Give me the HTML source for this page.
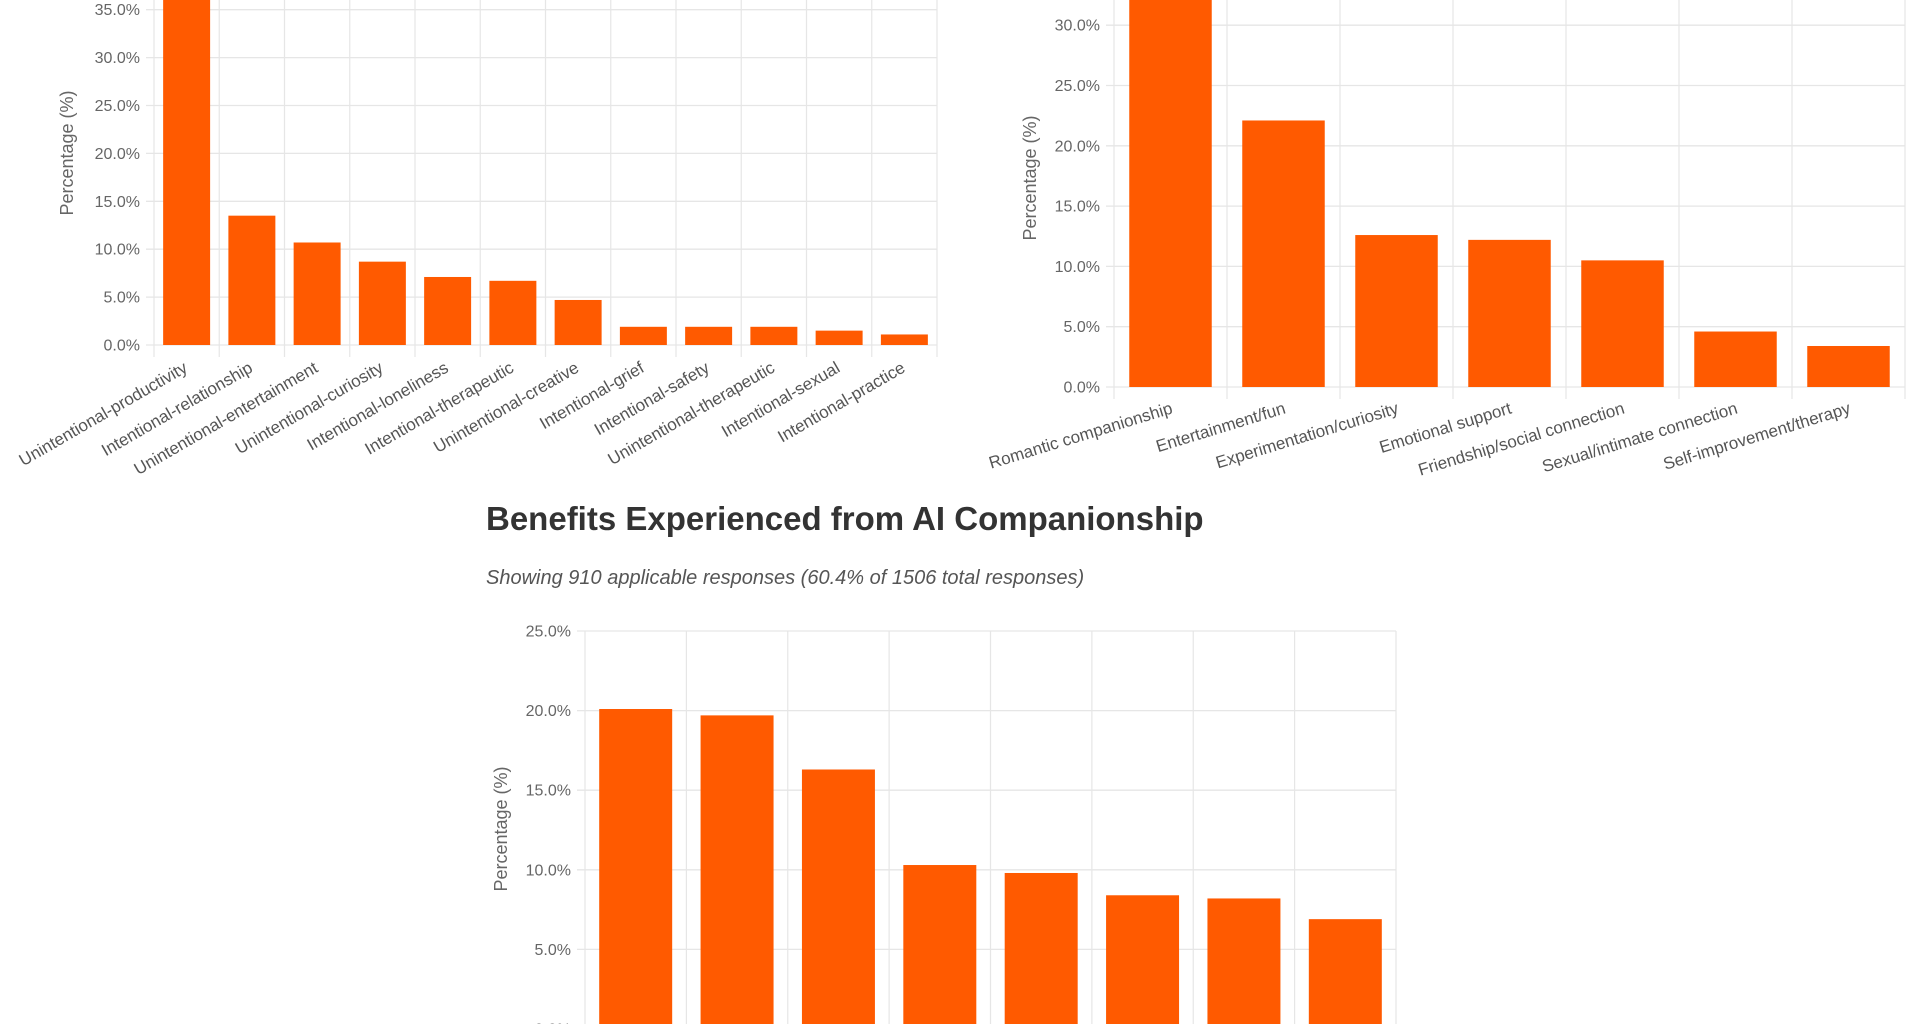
<!DOCTYPE html>
<html><head><meta charset="utf-8"><style>
html,body{margin:0;padding:0;background:#fff;width:1920px;height:1024px;overflow:hidden}
svg{display:block;font-family:"Liberation Sans",Arial,sans-serif}
</style></head><body>
<svg id="root" width="1920" height="1024" viewBox="0 0 1920 1024">
<text x="486" y="530" font-size="33" font-weight="bold" fill="#333">Benefits Experienced from AI Companionship</text>
<text x="486" y="584" font-size="20" font-style="italic" fill="#555">Showing 910 applicable responses (60.4% of 1506 total responses)</text>
</svg>
<script>
const c1Categories=["Unintentional-productivity","Intentional-relationship","Unintentional-entertainment","Unintentional-curiosity","Intentional-loneliness","Intentional-therapeutic","Unintentional-creative","Intentional-grief","Intentional-safety","Unintentional-therapeutic","Intentional-sexual","Intentional-practice"];
const c1Values=[38.5,13.5,10.7,8.7,7.1,6.7,4.7,1.9,1.9,1.9,1.5,1.1];
const c1Ticks=[0,5,10,15,20,25,30,35];
const c2Categories=["Romantic companionship","Entertainment/fun","Experimentation/curiosity","Emotional support","Friendship/social connection","Sexual/intimate connection","Self-improvement/therapy"];
const c2Values=[34,22.1,12.6,12.2,10.5,4.6,3.4];
const c2Ticks=[0,5,10,15,20,25,30];
const c3Categories=["Benefit A","Benefit B","Benefit C","Benefit D","Benefit E","Benefit F","Benefit G","Benefit H"];
const c3Values=[20.1,19.7,16.3,10.3,9.8,8.4,8.2,6.9];
const c3Ticks=[0,5,10,15,20,25];

const NS="http://www.w3.org/2000/svg";
const root=document.getElementById('root');
function mk(tag,attrs,parent){const e=document.createElementNS(NS,tag);for(const k in attrs)e.setAttribute(k,attrs[k]);(parent||root).appendChild(e);return e;}

function chart(id,cats,vals,ticks,cfg){
  const g=mk('g',{});
  
  
  const y=v=>cfg.y0-(v/5)*cfg.per5;
  const cw=(cfg.x1-cfg.x0)/cats.length;
  const top=cfg.top;
  ticks.forEach(t=>{
    const ln=mk('line',{x1:cfg.x0-8,x2:cfg.x1,y1:y(t),y2:y(t),stroke:'#e6e6e6','stroke-width':1.3},g);
    
    
    const tx=mk('text',{x:cfg.x0-14,y:y(t)+5.5,'font-size':16,'text-anchor':'end',fill:'#666'},g);
    tx.textContent=t.toFixed(1)+'%';
    
    
  });
  for(let i=0;i<=cats.length;i++){
    const x=cfg.x0+i*cw;
    const ln=mk('line',{x1:x,x2:x,y1:top,y2:cfg.y0+12,stroke:'#e6e6e6','stroke-width':1.2},g);
    
    
  }
  cats.forEach((c,i)=>{
    const bw=cw*cfg.bw;
    const x=cfg.x0+i*cw+(cw-bw)/2;
    const yt=Math.max(y(vals[i]),top);
    const r=mk('rect',{x:x,y:yt,width:bw,height:cfg.y0-yt,fill:'#ff5a00'},g);
    
    
    if(cfg.labels){
      const cx=cfg.x0+(i+0.5)*cw+cfg.lx;
      const tx=mk('text',{x:cx,y:cfg.y0+cfg.ly,'font-size':17,'text-anchor':'end',fill:'#555',transform:'rotate('+cfg.rot+' '+cx+' '+(cfg.y0+cfg.ly)+')'},g);
      tx.textContent=c;
      
      
    }
  });
  const at=mk('text',{x:cfg.tx,y:cfg.ty,'font-size':18,'text-anchor':'middle',fill:'#666',transform:'rotate(-90 '+cfg.tx+' '+cfg.ty+')'},g);
  at.textContent='Percentage (%)';
  
  
}
chart('motivation',c1Categories,c1Values,c1Ticks,{x0:154,x1:937,y0:345,per5:47.9,top:-5,bw:0.72,labels:true,lx:2,ly:26,rot:-30,tx:73,ty:153});
chart('reasons',c2Categories,c2Values,c2Ticks,{x0:1114,x1:1905,y0:387,per5:60.3,top:-5,bw:0.73,labels:true,lx:3,ly:26,rot:-17,tx:1036,ty:178});
chart('benefits',c3Categories,c3Values,c3Ticks,{x0:585,x1:1396,y0:1029,per5:79.6,top:631,bw:0.72,labels:false,tx:507,ty:829});
</script>
</body></html>
